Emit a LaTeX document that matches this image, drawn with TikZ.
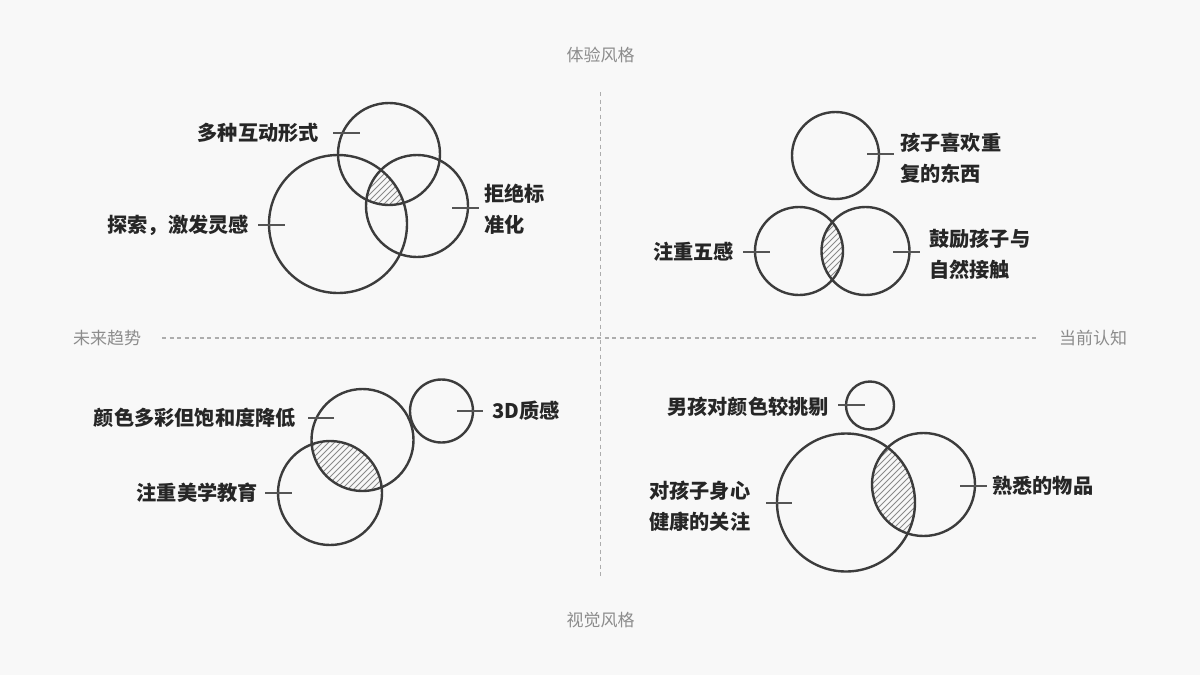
\documentclass[tikz,border=0pt]{standalone}
\usepackage{fontspec}
\setmainfont{Noto Sans CJK SC}
\definecolor{bg}{HTML}{F8F8F8}
\definecolor{ringc}{HTML}{3C3C3C}
\definecolor{tickc}{HTML}{555555}
\definecolor{hatchc}{HTML}{8A8A8A}
\definecolor{labelc}{HTML}{262626}
\definecolor{axisc}{HTML}{8C8C8C}
\definecolor{axlinec}{HTML}{ADADAD}
\begin{document}
\begin{tikzpicture}[x=1pt,y=-1pt,
  ring/.style={circle,draw=ringc,line width=2.4pt,minimum size=#1,inner sep=0pt},
  tickl/.style={draw=tickc,line width=2pt},
  hatchl/.style={draw=hatchc,line width=0.9pt},
  lbl/.style={font=\fontsize{20.2}{31}\selectfont\bfseries,text=labelc,inner sep=0pt,align=left},
  axl/.style={font=\fontsize{17}{20}\selectfont,text=axisc,inner sep=0pt},
  axisline/.style={draw=axlinec,line width=1.5pt,dash pattern=on 4pt off 3.5pt}]
\fill[bg] (0,0) rectangle (1200,675);
\useasboundingbox (0,0) rectangle (1200,675);

% axes
\coordinate (vtop) at (600.5,92);
\coordinate (vbot) at (600.5,577);
\coordinate (hl) at (162,338);
\coordinate (hr) at (1038,338);
\draw[axisline] (vtop) -- (vbot);
\draw[axisline] (hl) -- (hr);
\node[axl] (axt) at (600.5,55) {体验风格};
\node[axl] (axb) at (600.5,620) {视觉风格};
\node[axl] (axl) at (107,338) {未来趋势};
\node[axl] (axr) at (1093,338) {当前认知};

% ---------- top-left ----------
\begin{scope}
  \clip (389,154) circle (51pt);
  \clip (417,206) circle (51pt);
  \clip (338,224) circle (69pt);
  \foreach \d in {-120,-114,...,120}
    \draw[hatchl] (385+\d-70,255) -- (385+\d+70,115);
\end{scope}
\node[ring=102pt] (tlA) at (389,154) {};
\node[ring=102pt] (tlB) at (417,206) {};
\node[ring=138pt] (tlC) at (338,224) {};
\draw[tickl] (333,133) -- (360,133);
\draw[tickl] (452,208) -- (479,208);
\draw[tickl] (258,225) -- (285,225);
\node[lbl,anchor=east] (tlLa) at (319,133) {多种互动形式};
\node[lbl,anchor=west] (tlLb) at (484,209.5) {拒绝标\\准化};
\node[lbl,anchor=east] (tlLc) at (249,225) {探索，激发灵感};

% ---------- top-right ----------
\begin{scope}
  \clip (799,251) circle (44pt);
  \clip (865.5,251) circle (44pt);
  \foreach \d in {-120,-114,...,120}
    \draw[hatchl] (832+\d-70,321) -- (832+\d+70,181);
\end{scope}
\node[ring=87pt] (trA) at (835.5,155.5) {};
\node[ring=88pt] (trB) at (799,251) {};
\node[ring=88pt] (trC) at (865.5,251) {};
\draw[tickl] (867,154) -- (894,154);
\draw[tickl] (743,252) -- (770,252);
\draw[tickl] (893,252) -- (920,252);
\node[lbl,anchor=west] (trLa) at (900,158) {孩子喜欢重\\复的东西};
\node[lbl,anchor=east] (trLb) at (734,252) {注重五感};
\node[lbl,anchor=west] (trLc) at (929,254) {鼓励孩子与\\自然接触};

% ---------- bottom-left ----------
\begin{scope}
  \clip (362.5,440) circle (51pt);
  \clip (330,493) circle (52pt);
  \foreach \d in {-120,-114,...,120}
    \draw[hatchl] (347+\d-70,536) -- (347+\d+70,396);
\end{scope}
\node[ring=102pt] (blA) at (362.5,440) {};
\node[ring=104pt] (blB) at (330,493) {};
\node[ring=63pt] (blC) at (441.5,411) {};
\draw[tickl] (308,418) -- (334,418);
\draw[tickl] (265,493) -- (292,493);
\draw[tickl] (457,411) -- (483,411);
\node[lbl,anchor=east] (blLa) at (296,418) {颜色多彩但饱和度降低};
\node[lbl,anchor=east] (blLb) at (258,493) {注重美学教育};
\node[lbl,anchor=west] (blLc) at (492,411) {3D质感};

% ---------- bottom-right ----------
\begin{scope}
  \clip (846,502.5) circle (69pt);
  \clip (923.5,484.5) circle (51pt);
  \foreach \d in {-120,-114,...,120}
    \draw[hatchl] (895+\d-80,565) -- (895+\d+80,405);
\end{scope}
\node[ring=48pt] (brA) at (870,405.5) {};
\node[ring=138pt] (brB) at (846,502.5) {};
\node[ring=103pt] (brC) at (923.5,484.5) {};
\draw[tickl] (838,405) -- (865,405);
\draw[tickl] (766,503) -- (792,503);
\draw[tickl] (960,486) -- (987,486);
\node[lbl,anchor=east] (brLa) at (829,407) {男孩对颜色较挑剔};
\node[lbl,anchor=west] (brLb) at (649,506.5) {对孩子身心\\健康的关注};
\node[lbl,anchor=west] (brLc) at (992,486) {熟悉的物品};
\end{tikzpicture}
\end{document}
